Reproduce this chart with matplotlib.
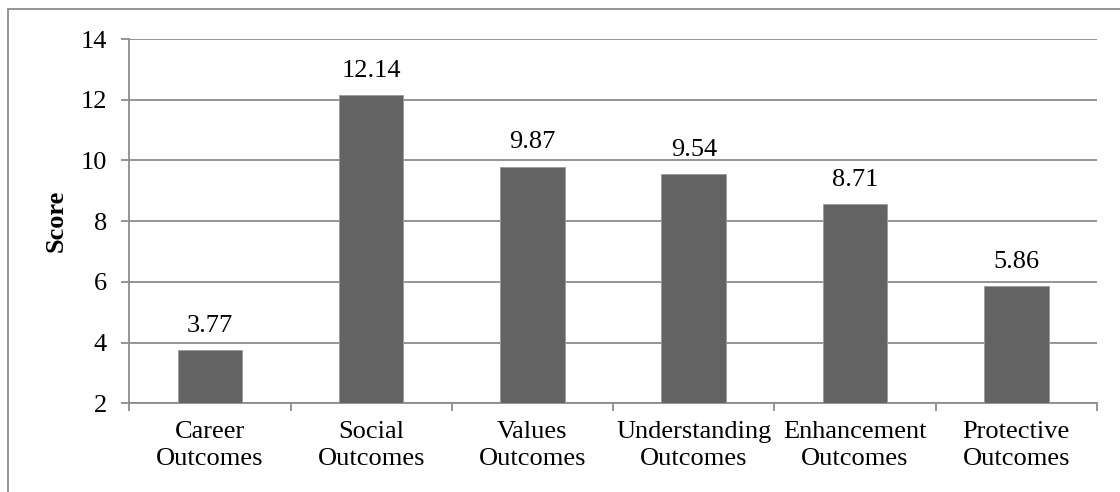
import matplotlib
matplotlib.use("Agg")
import matplotlib.pyplot as plt
from matplotlib.patches import Rectangle

# categories and scores
categories = ["Career\nOutcomes", "Social\nOutcomes", "Values\nOutcomes",
              "Understanding\nOutcomes", "Enhancement\nOutcomes", "Protective\nOutcomes"]
scores = [3.77, 12.14, 9.80, 9.54, 8.57, 5.86]  # bar heights as drawn
score_labels = ["3.77", "12.14", "9.87", "9.54", "8.71", "5.86"]  # printed labels
y_ticks = [2, 4, 6, 8, 10, 12, 14]

plt.rcParams['font.family'] = ['Liberation Serif', 'DejaVu Serif']
plt.rcParams['font.size'] = 19

fig = plt.figure(figsize=(11.2, 4.92), dpi=100)
ax = fig.add_axes([0.1154, 0.1803, 0.8640, 0.7404])

# outer chart frame (right and bottom edges cut off in the original)
fig.patches.append(Rectangle((7.5 / 1120, -0.1), 1.2, 1 - 9 / 492 + 0.1,
                             transform=fig.transFigure, fill=False,
                             edgecolor='#8c8c8c', linewidth=1.3))

x = list(range(len(categories)))
bars = ax.bar(x, scores, width=0.40, bottom=0, color='#636363',
              edgecolor='#9a9a9a', linewidth=0.6, zorder=3)

for xi, val, lab in zip(x, scores, score_labels):
    ax.annotate(lab, (xi, val), xytext=(0, 13), textcoords='offset points',
                ha='center', va='baseline', fontsize=19)

ax.set_xlim(-0.5, len(categories) - 0.5)
ax.set_ylim(2, 14)
ax.set_yticks(y_ticks)
ax.yaxis.grid(True, color='#8c8c8c', linewidth=1.3, zorder=0)
ax.set_axisbelow(True)

# ticks between categories, labels at centres
ax.set_xticks([i - 0.5 for i in range(len(categories) + 1)])
ax.set_xticklabels([])
ax.set_xticks(x, minor=True)
ax.set_xticklabels(categories, minor=True, linespacing=1.3)
ax.tick_params(axis='x', which='minor', length=0, pad=13)
ax.tick_params(axis='x', which='major', length=5.5, width=1.3, color='#8c8c8c', direction='out')
ax.tick_params(axis='y', length=6, width=1.3, color='#8c8c8c', pad=10)

for side in ['top', 'right']:
    ax.spines[side].set_visible(False)
for side in ['left', 'bottom']:
    ax.spines[side].set_color('#8c8c8c')
    ax.spines[side].set_linewidth(1.3)

ax.set_ylabel("Score", fontweight='bold', fontsize=19)
ax.yaxis.set_label_coords(-0.064, 0.5)

fig.savefig("out.png", dpi=100)
